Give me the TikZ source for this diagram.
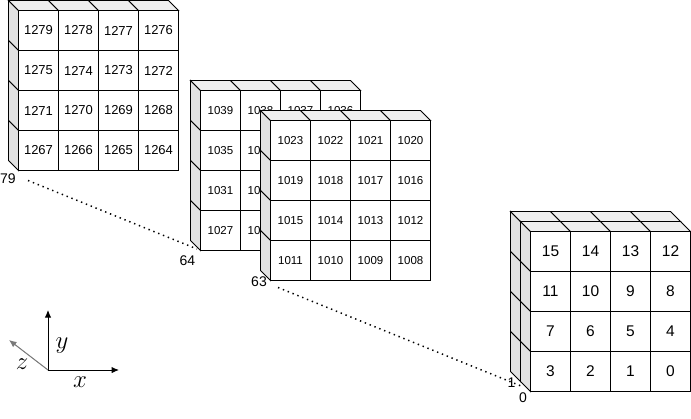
\documentclass[tikz,border=0pt]{standalone}
\usepackage{fontspec}
\setmainfont{Liberation Sans}
\usetikzlibrary{arrows.meta}

\definecolor{sidegray}{HTML}{E2E2E2}
\definecolor{topgray}{HTML}{EFEFEF}
\definecolor{axisgray}{HTML}{7A7A7A}

\tikzset{
  edge/.style={draw=black, line width=0.9pt, line join=miter},
  sideface/.style={edge, fill=sidegray},
  topface/.style={edge, fill=topgray},
  cellbox/.style={edge, fill=white},
  cellnum/.style={inner sep=0pt, text=black},
  layerlabel/.style={inner sep=0pt, font=\fontsize{14}{16}\selectfont},
  dotline/.style={line width=1.5pt, dash pattern=on 1.4pt off 3.8pt, line cap=butt},
  axisarrow/.style={line width=1pt, -{Latex[length=7.5pt,width=6.5pt]}},
  axislabel/.style={inner sep=0pt, font=\fontsize{23}{27}\selectfont}
}

% \numcube{x0}{y0}{layers}{font size}{first index}
% front face is a 4x4 grid of 40-unit cells with its top-left corner at (x0,y0);
% each layer behind it adds a 10-unit strip on the left and top faces
\newcommand\numcube[5]{%
  \foreach \lay in {#3,...,1}{%
    \pgfmathsetmacro\dA{10*(\lay-1)}%
    \pgfmathsetmacro\dB{10*\lay}%
    \foreach \idx in {0,...,3}{%
      \draw[sideface] (#1-\dA, #2+40*\idx-\dA) -- (#1-\dB, #2+40*\idx-\dB)
        -- (#1-\dB, #2+40*\idx+40-\dB) -- (#1-\dA, #2+40*\idx+40-\dA) -- cycle;
      \draw[topface] (#1+40*\idx-\dA, #2-\dA) -- (#1+40*\idx-\dB, #2-\dB)
        -- (#1+40*\idx+40-\dB, #2-\dB) -- (#1+40*\idx+40-\dA, #2-\dA) -- cycle;
    }%
  }%
  \foreach \row in {0,...,3}{%
    \foreach \col in {0,...,3}{%
      \pgfmathtruncatemacro\num{#5+15-4*\row-\col}%
      \draw[cellbox] (#1+40*\col, #2+40*\row) rectangle ++(40,40);
      \node[cellnum, font=\fontsize{#4}{#4}\selectfont]
        (n\num) at (#1+40*\col+20, #2+40*\row+20) {\num};
    }%
  }%
}

\begin{document}
\begin{tikzpicture}[x=1pt, y=-1pt]
  \useasboundingbox (0,0) rectangle (691,418);

  % layer 79 (indices 1264--1279)
  \numcube{18.5}{10.5}{1}{13}{1264}
  % layers 64 and 63
  \numcube{200.5}{90.5}{1}{11.5}{1024}
  \numcube{270.5}{120.5}{1}{11.5}{1008}
  % layers 1 and 0
  \numcube{530.5}{231.5}{2}{15.5}{0}

  % layer numbers
  \node[layerlabel] (lab79) at (8,178.5) {79};
  \node[layerlabel] (lab64) at (187.5,260.5) {64};
  \node[layerlabel] (lab63) at (259,282) {63};
  \node[layerlabel] (lab1) at (511.5,383) {1};
  \node[layerlabel] (lab0) at (523,397.5) {0};

  % skipped layers
  \coordinate (s79) at (28,180.5);
  \coordinate (e64) at (197,249);
  \coordinate (s63) at (278,287.5);
  \coordinate (e1) at (521,386);
  \draw[dotline] (s79) -- (e64);
  \draw[dotline] (s63) -- (e1);

  % coordinate axes
  \coordinate (O) at (48,370);
  \coordinate (ax) at (119,370);
  \coordinate (ay) at (48,310);
  \coordinate (az) at (9,340);
  \draw[axisarrow] (O) -- (ax);
  \draw[axisarrow] (O) -- (ay);
  \draw[axisarrow, draw=axisgray, fill=black] (O) -- (az);
  \node[axislabel] (lx) at (80,382.5) {$x$};
  \node[axislabel] (ly) at (62,345.5) {$y$};
  \node[axislabel] (lz) at (22,364) {$z$};
\end{tikzpicture}
\end{document}
